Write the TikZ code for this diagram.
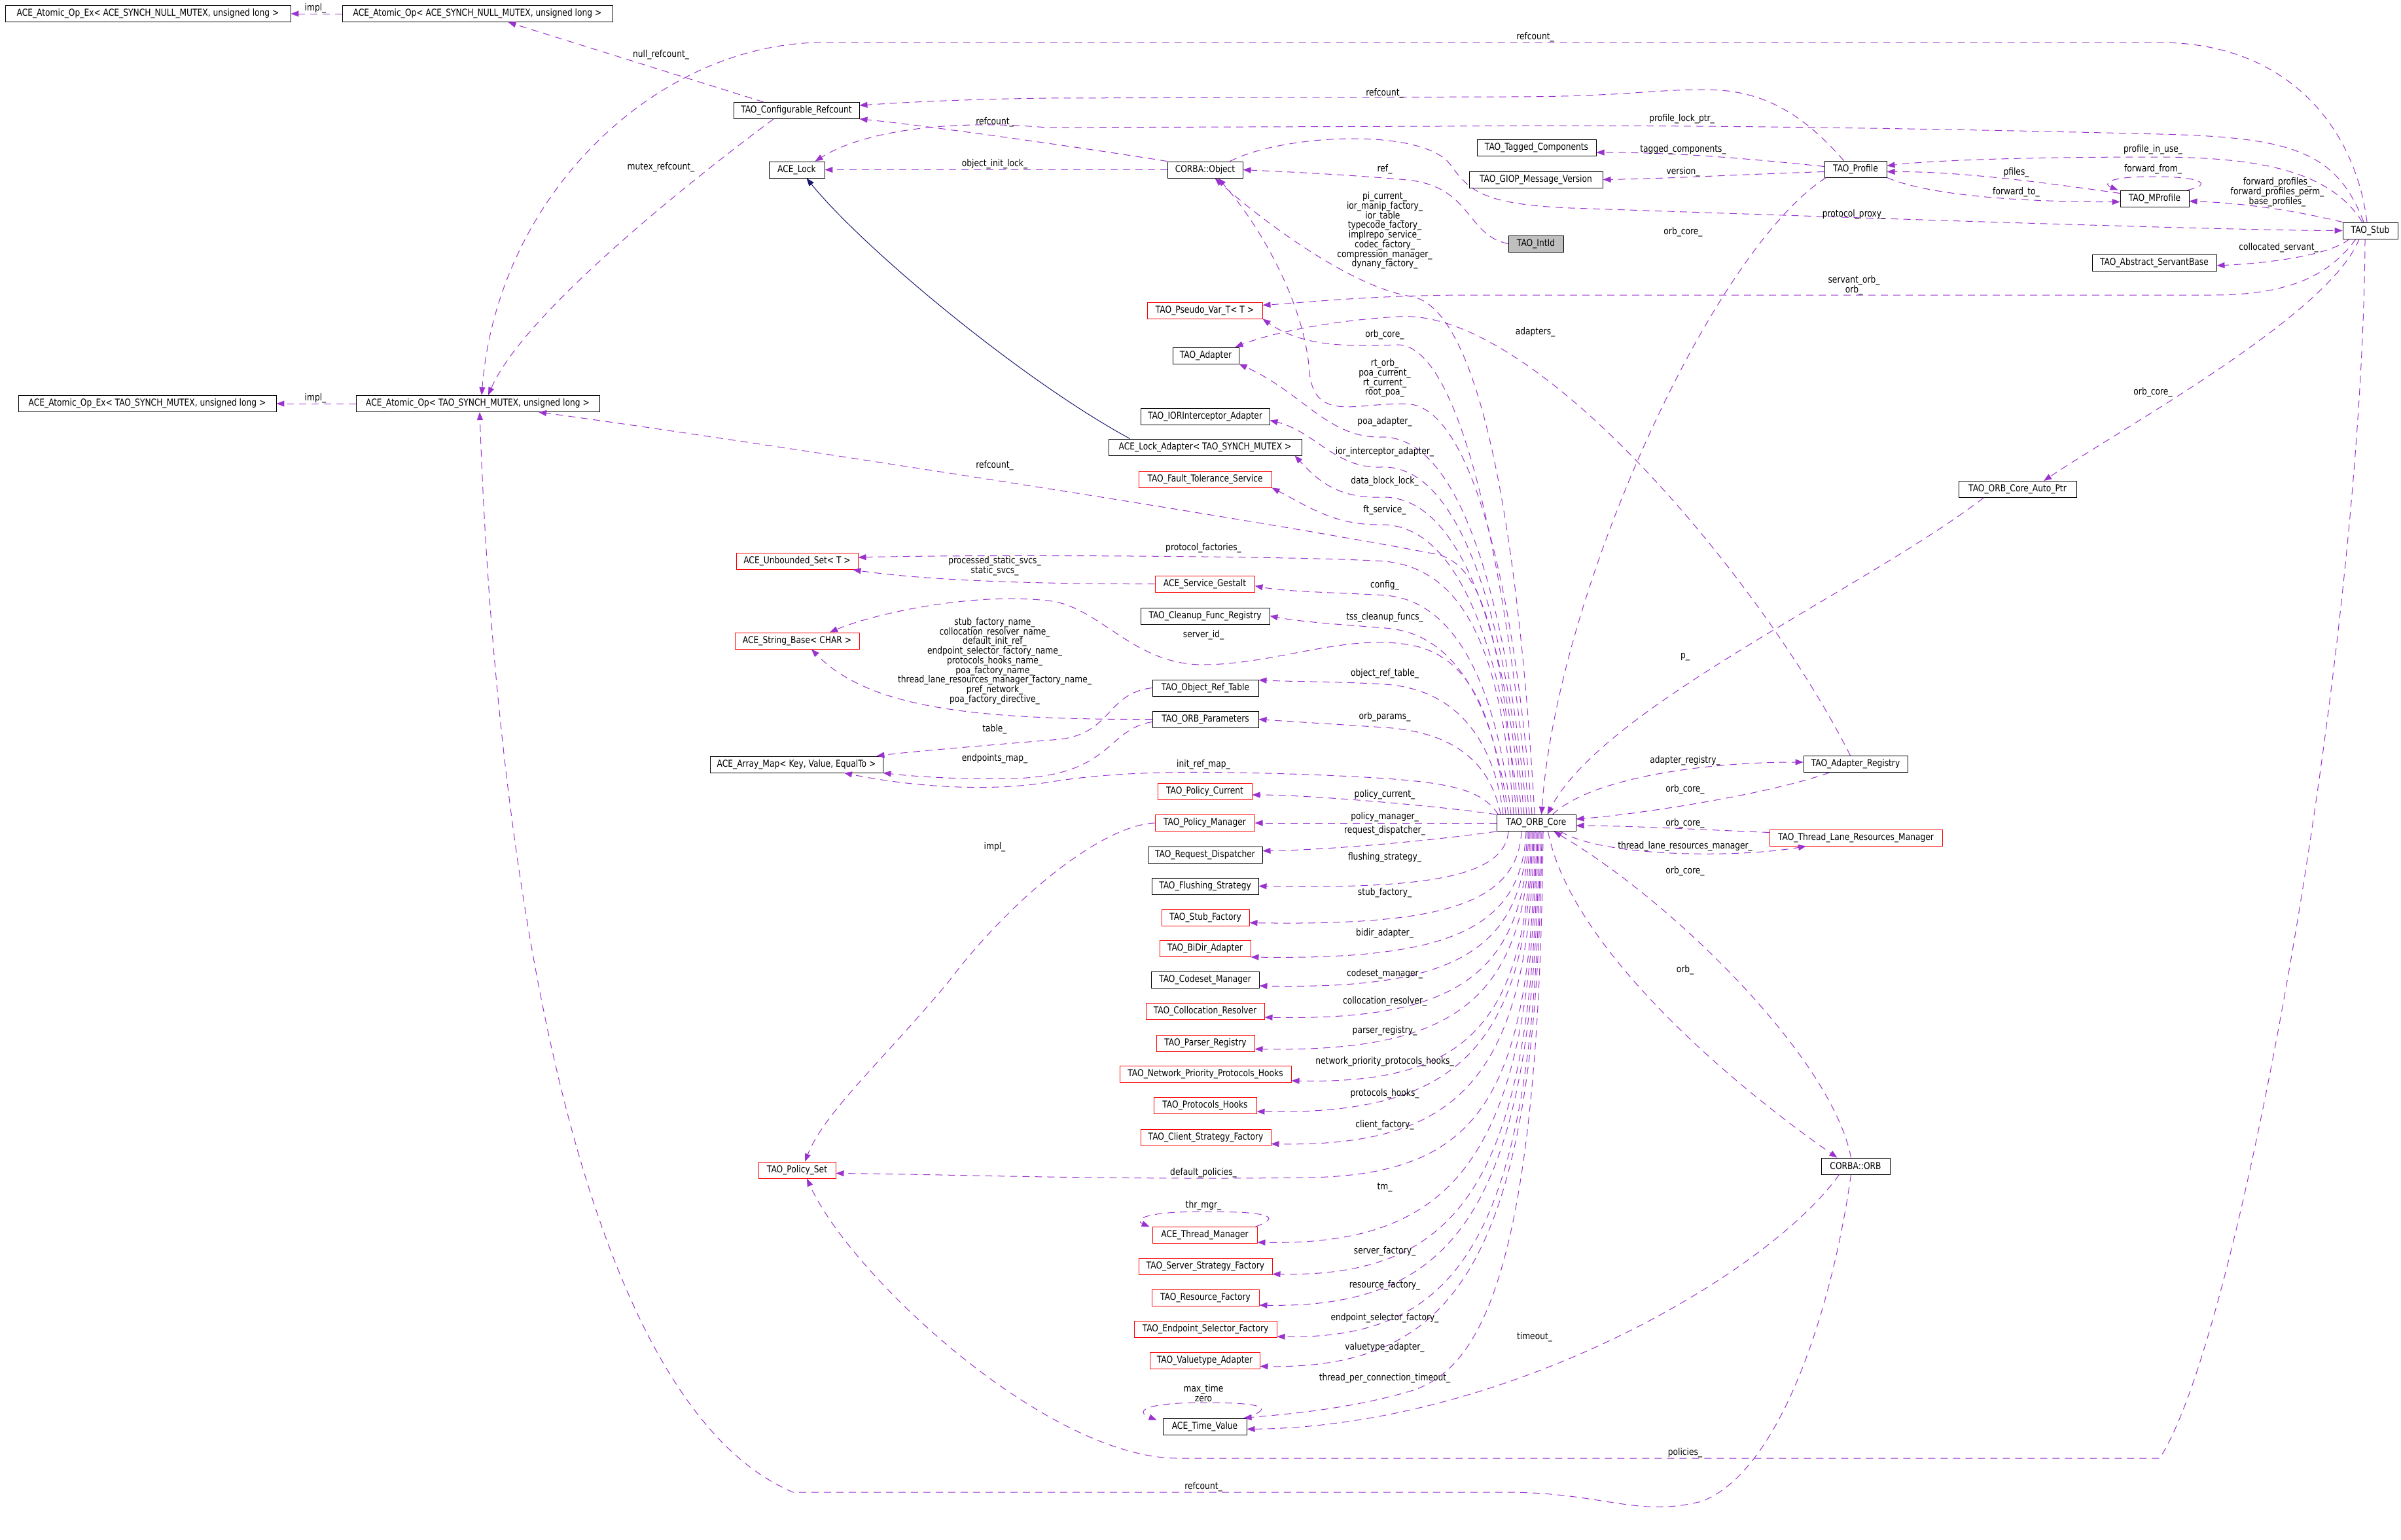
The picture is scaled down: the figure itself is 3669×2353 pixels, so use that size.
\documentclass[tikz,border=0pt]{standalone}
\usepackage{fontspec}
\setmainfont{DejaVu Sans}[FakeStretch=0.84]
\usetikzlibrary{arrows.meta}
\definecolor{edgec}{HTML}{9A32CD}
\definecolor{inhc}{HTML}{191970}
\definecolor{boxred}{HTML}{FF0000}
\definecolor{grayfill}{HTML}{BFBFBF}
\newcommand\dgfont{\fontsize{14.6}{14.7}\selectfont}
\tikzset{
  box/.style={draw=black, line width=0.95pt, minimum height=25pt, inner sep=0pt, font=\dgfont, text=black},
  rbox/.style={box, draw=boxred},
  gbox/.style={box, fill=grayfill},
  lbl/.style={font=\dgfont, inner sep=0pt, text=black, align=center},
  e/.style={draw=edgec, line width=1.0pt, dash pattern=on 11pt off 8pt, -{Triangle[length=12pt,width=9pt]}},
  inh/.style={draw=inhc, line width=1.0pt, -{Triangle[length=12pt,width=9pt]}}
}
\begin{document}
\begin{tikzpicture}[x=1pt,y=-1pt]
\fill[white] (0,0) rectangle (3669,2353);
\useasboundingbox (0,0) rectangle (3669,2353);
% ---------- nodes ----------
\node[box, minimum width=436pt] (n1) at (226,21) {ACE\_Atomic\_Op\_Ex< ACE\_SYNCH\_NULL\_MUTEX, unsigned long >};
\node[box, minimum width=413pt] (n2) at (729.5,21) {ACE\_Atomic\_Op< ACE\_SYNCH\_NULL\_MUTEX, unsigned long >};
\node[box, minimum width=394pt] (n3) at (225,617) {ACE\_Atomic\_Op\_Ex< TAO\_SYNCH\_MUTEX, unsigned long >};
\node[box, minimum width=372pt] (n4) at (730,617) {ACE\_Atomic\_Op< TAO\_SYNCH\_MUTEX, unsigned long >};
\node[box, minimum width=192pt] (cfg) at (1217,169) {TAO\_Configurable\_Refcount};
\node[box, minimum width=85pt] (lock) at (1217.5,259.5) {ACE\_Lock};
\node[box, minimum width=115pt] (obj) at (1841.5,259.5) {CORBA::Object};
\node[gbox, minimum width=84pt] (intid) at (2347,372.5) {TAO\_IntId};
\node[box, minimum width=182pt] (tagged) at (2348,226) {TAO\_Tagged\_Components};
\node[box, minimum width=204pt] (giop) at (2347,274.5) {TAO\_GIOP\_Message\_Version};
\node[rbox, minimum width=176pt] (pseudo) at (1841,474.5) {TAO\_Pseudo\_Var\_T< T >};
\node[box, minimum width=101pt] (adapter) at (1842.5,543.5) {TAO\_Adapter};
\node[box, minimum width=197pt] (iorint) at (1841.5,636.5) {TAO\_IORInterceptor\_Adapter};
\node[box, minimum width=295pt] (lockad) at (1841.5,683.5) {ACE\_Lock\_Adapter< TAO\_SYNCH\_MUTEX >};
\node[rbox, minimum width=203pt] (ft) at (1841.5,732.5) {TAO\_Fault\_Tolerance\_Service};
\node[rbox, minimum width=186pt] (uset) at (1218,858) {ACE\_Unbounded\_Set< T >};
\node[rbox, minimum width=152pt] (gestalt) at (1841,892.5) {ACE\_Service\_Gestalt};
\node[box, minimum width=197pt] (cleanup) at (1841.5,941.5) {TAO\_Cleanup\_Func\_Registry};
\node[rbox, minimum width=190pt] (strb) at (1218,979.5) {ACE\_String\_Base< CHAR >};
\node[box, minimum width=162pt] (ort) at (1842,1051.5) {TAO\_Object\_Ref\_Table};
\node[box, minimum width=162pt] (params) at (1842,1099.5) {TAO\_ORB\_Parameters};
\node[box, minimum width=264pt] (amap) at (1217,1168.5) {ACE\_Array\_Map< Key, Value, EqualTo >};
\node[rbox, minimum width=144pt] (pcur) at (1841,1210) {TAO\_Policy\_Current};
\node[rbox, minimum width=152pt] (pman) at (1841,1258) {TAO\_Policy\_Manager};
\node[box, minimum width=175pt] (rdisp) at (1841.5,1306.5) {TAO\_Request\_Dispatcher};
\node[box, minimum width=163pt] (flush) at (1841.5,1354.5) {TAO\_Flushing\_Strategy};
\node[rbox, minimum width=134pt] (stubf) at (1842,1402.5) {TAO\_Stub\_Factory};
\node[rbox, minimum width=139pt] (bidir) at (1841.5,1450) {TAO\_BiDir\_Adapter};
\node[box, minimum width=165pt] (codeset) at (1841.5,1498) {TAO\_Codeset\_Manager};
\node[rbox, minimum width=181pt] (colres) at (1841.5,1546) {TAO\_Collocation\_Resolver};
\node[rbox, minimum width=150pt] (parser) at (1842,1594.5) {TAO\_Parser\_Registry};
\node[rbox, minimum width=262pt] (npph) at (1842,1642) {TAO\_Network\_Priority\_Protocols\_Hooks};
\node[rbox, minimum width=157pt] (phooks) at (1841.5,1690) {TAO\_Protocols\_Hooks};
\node[rbox, minimum width=199pt] (csf) at (1842.5,1738.5) {TAO\_Client\_Strategy\_Factory};
\node[rbox, minimum width=118pt] (pset) at (1218,1788.5) {TAO\_Policy\_Set};
\node[rbox, minimum width=160pt] (thrm) at (1841,1888) {ACE\_Thread\_Manager};
\node[rbox, minimum width=204pt] (ssf) at (1842,1935.5) {TAO\_Server\_Strategy\_Factory};
\node[rbox, minimum width=164pt] (resf) at (1842,1984) {TAO\_Resource\_Factory};
\node[rbox, minimum width=218pt] (esf) at (1842,2032) {TAO\_Endpoint\_Selector\_Factory};
\node[rbox, minimum width=168pt] (vta) at (1841,2079.5) {TAO\_Valuetype\_Adapter};
\node[box, minimum width=128pt] (tv) at (1841,2180.5) {ACE\_Time\_Value};
\node[box, minimum width=121pt] (core) at (2347.5,1258) {TAO\_ORB\_Core};
\node[box, minimum width=95pt] (profile) at (2835.5,258.5) {TAO\_Profile};
\node[box, minimum width=105pt] (mprof) at (3292.5,303.5) {TAO\_MProfile};
\node[box, minimum width=84pt] (stub) at (3622,352.5) {TAO\_Stub};
\node[box, minimum width=190pt] (asb) at (3292,402) {TAO\_Abstract\_ServantBase};
\node[box, minimum width=180pt] (autoptr) at (3083,748) {TAO\_ORB\_Core\_Auto\_Ptr};
\node[box, minimum width=159pt] (areg) at (2835.5,1168) {TAO\_Adapter\_Registry};
\node[rbox, minimum width=264pt] (tlrm) at (2836,1280.5) {TAO\_Thread\_Lane\_Resources\_Manager};
\node[box, minimum width=105pt] (orb) at (2835.5,1782.5) {CORBA::ORB};

% ---------- edges: left / top ----------
\draw[e] (n2.west) -- (n1.east);
\draw[e] (n4.west) -- (n3.east);
\draw[e] ([xshift=-50pt]cfg.north) -- ([xshift=47pt]n2.south);
\draw[e] ([xshift=-35pt]cfg.south) .. controls (1050,280) and (800,480) .. ([xshift=16pt]n4.north);
\draw[e] ([xshift=-5pt]stub.north) .. controls (3600,200) and (3500,65) .. (3300,65) -- (1250,65) .. controls (1000,70) and (760,300) .. ([xshift=6pt]n4.north);
\draw[e] (obj.north west) .. controls (1650,225) and (1400,190) .. (cfg.south east);
\draw[e] ([xshift=-18pt]profile.north) .. controls (2760,180) and (2700,137) .. (2606,137) .. controls (2520,137) and (2480,148) .. (2300,148) -- (1600,150) .. controls (1450,152) and (1360,158) .. ([yshift=8pt]cfg.east);
\draw[e] ([xshift=-10pt]stub.north) .. controls (3570,230) and (3500,210) .. (3300,205) .. controls (2900,195) and (2500,190) .. (2200,193) -- (1600,195) .. controls (1450,182) and (1320,200) .. ([xshift=28pt]lock.north);
\draw[e] (obj.west) -- (lock.east);
\draw[inh] ([xshift=-115pt]lockad.north) .. controls (1560,580) and (1320,380) .. ([xshift=15pt]lock.south);
\draw[e] (intid.west) .. controls (2240,360) and (2250,285) .. (2150,275) .. controls (2050,266) and (1950,262) .. (obj.east);
\draw[e] ([xshift=38pt]obj.north) .. controls (1960,205) and (2170,195) .. (2215,250) .. controls (2245,290) and (2260,312) .. (2400,318) .. controls (2900,335) and (3400,352) .. (stub.west);

% ---------- profile / stub ----------
\draw[e] ([yshift=4pt]profile.west) .. controls (2650,240) and (2550,233) .. ([yshift=-7pt]tagged.east);
\draw[e] ([yshift=-4pt]profile.west) .. controls (2650,267) and (2550,273) .. (giop.east);
\draw[e] ([xshift=-45pt]profile.south) .. controls (2620,380) and (2380,900) .. ([xshift=8pt]core.north);
\draw[e] ([xshift=-12pt]stub.north) .. controls (3560,260) and (3450,240) .. (3290,240) .. controls (3100,240) and (2950,245) .. ([yshift=5pt]profile.east);
\draw[e] ([yshift=8pt]mprof.west) .. controls (3130,280) and (3000,262) .. ([yshift=-4pt]profile.east);
\draw[e] (profile.south east) .. controls (2950,300) and (3100,309) .. ([yshift=-5pt]mprof.west);
\draw[e] ([xshift=-3pt]mprof.north east) .. controls (3380,283) and (3370,270) .. (3290,270) .. controls (3215,270) and (3215,282) .. ([xshift=-3pt]mprof.north west);
\draw[e] (stub.north west) .. controls (3500,320) and (3420,310) .. ([yshift=-4pt]mprof.east);
\draw[e] ([xshift=-32pt]stub.south) .. controls (3560,390) and (3470,402) .. ([yshift=-4pt]asb.east);
\draw[e] ([xshift=-22pt]stub.south) .. controls (3560,420) and (3500,451) .. (3380,451) -- (2250,451) .. controls (2100,451) and (2000,462) .. ([yshift=8pt]pseudo.east);
\draw[e] ([xshift=-17pt]stub.south) .. controls (3560,480) and (3250,650) .. ([xshift=40pt]autoptr.north);
\draw[e] ([xshift=-8pt]stub.south) .. controls (3610,1000) and (3420,2050) .. (3300,2229) -- (1800,2229) .. controls (1600,2229) and (1300,1950) .. ([xshift=15pt]pset.south);
\draw[e] ([xshift=-52pt]autoptr.south) .. controls (2850,900) and (2450,1080) .. ([xshift=17pt]core.north);
\draw[e] ([xshift=-8pt]areg.north) .. controls (2700,900) and (2350,470) .. (2137,484) .. controls (2030,490) and (1940,510) .. ([xshift=45pt]adapter.north);
\draw[e] ([xshift=25pt]core.north) .. controls (2430,1190) and (2600,1165) .. ([yshift=3pt]areg.west);
\draw[e] ([xshift=-40pt]areg.south) .. controls (2700,1215) and (2500,1245) .. ([yshift=6pt]core.east);
\draw[e] ([yshift=8pt]tlrm.west) .. controls (2600,1268) and (2480,1262) .. ([yshift=-4pt]core.east);
\draw[e] ([xshift=37pt]core.south) .. controls (2450,1310) and (2650,1312) .. ([xshift=-76pt]tlrm.south);
\draw[e] ([xshift=-7pt]orb.north) .. controls (2800,1620) and (2560,1380) .. ([xshift=27pt]core.south);
\draw[e] ([xshift=18pt]core.south) .. controls (2400,1450) and (2650,1660) .. ([xshift=-28pt]orb.north);
\draw[e] ([xshift=-7pt]orb.south) .. controls (2800,2000) and (2720,2250) .. (2600,2295) .. controls (2500,2320) and (2450,2281) .. (2300,2281) -- (1212,2281) .. controls (900,2150) and (760,1400) .. ([xshift=3pt]n4.south);
\draw[e] ([xshift=-25pt]orb.south) .. controls (2700,1950) and (2300,2180) .. ([yshift=-4pt]tv.east);

% ---------- ORB_Core top fan ----------
\draw[e] ([xshift=-2.5pt]core.north) .. controls (2320,800) and (2260,470) .. (2156,453) .. controls (2060,438) and (1920,330) .. ([xshift=15pt]obj.south);
\draw[e] ([xshift=-6.5pt]core.north) .. controls (2310,850) and (2240,630) .. (2156,618) .. controls (2080,612) and (2010,650) .. (2001,570) .. controls (1995,470) and (1930,350) .. ([xshift=20pt]obj.south);
\draw[e] ([xshift=-10.5pt]core.north) .. controls (2300,850) and (2230,530) .. (2137,527) .. controls (2060,530) and (1990,530) .. (pseudo.south east);
\draw[e] ([xshift=-14.5pt]core.north) .. controls (2305,950) and (2240,665) .. (2110,668) .. controls (2030,670) and (1990,600) .. (adapter.south east);
\draw[e] ([xshift=-18.5pt]core.north) .. controls (2305,980) and (2240,708) .. (2110,714) .. controls (2040,716) and (2010,660) .. ([yshift=-6pt]iorint.east);
\draw[e] ([xshift=-22.5pt]core.north) .. controls (2305,1000) and (2240,755) .. (2110,760) .. controls (2040,762) and (2010,730) .. ([xshift=-11pt]lockad.south east);
\draw[e] ([xshift=-26.5pt]core.north) .. controls (2300,1030) and (2240,800) .. (2110,802) .. controls (2040,803) and (2000,775) .. (ft.south east);
\draw[e] ([xshift=-30.5pt]core.north) .. controls (2295,960) and (2260,860) .. (2194,847) .. controls (1900,790) and (1050,660) .. ([xshift=93pt]n4.south);
\draw[e] ([xshift=-34.5pt]core.north) .. controls (2295,1000) and (2240,870) .. (2116,858) .. controls (2000,850) and (1500,847) .. ([yshift=6pt]uset.east);
\draw[e] (gestalt.west) .. controls (1550,893) and (1400,885) .. ([xshift=-8pt]uset.south east);
\draw[e] ([xshift=-38.5pt]core.north) .. controls (2290,1077) and (2236,918) .. (2116,910) .. controls (2056,906) and (1967,905) .. ([yshift=-3pt]gestalt.east);
\draw[e] ([xshift=-42.5pt]core.north) .. controls (2285,1100) and (2236,968) .. (2116,960) .. controls (2056,955) and (1990,951) .. (cleanup.east);
\draw[e] ([xshift=-46.5pt]core.north) .. controls (2285,1100) and (2250,1000) .. (2150,985) .. controls (2050,970) and (1950,1015) .. (1840,1016) .. controls (1730,1017) and (1680,925) .. (1600,918) .. controls (1480,905) and (1330,940) .. ([xshift=50pt]strb.north);
\draw[e] ([xshift=-50.5pt]core.north) .. controls (2285,1145) and (2236,1054) .. (2116,1046) .. controls (2056,1042) and (1973,1042) .. ([yshift=12pt]ort.east);
\draw[e] ([xshift=-54.5pt]core.north) .. controls (2280,1178) and (2236,1120) .. (2116,1112) .. controls (2056,1108) and (1973,1103) .. (params.east);
\draw[e] ([xshift=3pt]core.north west) .. controls (2260,1200) and (2200,1192) .. (2000,1184) .. controls (1800,1177) and (1700,1180) .. (1600,1196) .. controls (1500,1212) and (1380,1200) .. ([xshift=73pt]amap.south);
\draw[e] (core.north west) .. controls (2200,1232) and (2000,1215) .. ([yshift=-5pt]pcur.east);
\draw[e] (core.west) -- (pman.east);
\draw[e] (core.south west) .. controls (2150,1290) and (2000,1300) .. ([yshift=6pt]rdisp.east);

% ---------- left middle ----------
\draw[e] (params.west) .. controls (1500,1100) and (1330,1085) .. ([xshift=22pt]strb.south);
\draw[e] (ort.west) .. controls (1690,1060) and (1700,1120) .. (1620,1130) .. controls (1500,1140) and (1400,1148) .. ([xshift=-10pt]amap.north east);
\draw[e] ([yshift=-4pt]params.west) .. controls (1690,1115) and (1700,1185) .. (1550,1190) .. controls (1450,1192) and (1380,1185) .. (amap.south east);
\draw[e] (pman.west) .. controls (1680,1262) and (1540,1380) .. (1450,1500) .. controls (1350,1620) and (1260,1700) .. ([xshift=12pt]pset.north);

% ---------- ORB_Core bottom fan ----------
\draw[e] ([xshift=-42.5pt]core.south) .. controls (2299,1338) and (2190,1359) .. (flush.east);
\draw[e] ([xshift=-22.5pt]core.south) .. controls (2319,1383) and (2200,1415) .. ([yshift=-8pt]stubf.east);
\draw[e] ([xshift=-15.5pt]core.south) .. controls (2326,1424) and (2206,1467) .. (bidir.south east);
\draw[e] ([xshift=-13.5pt]core.south) .. controls (2328,1460) and (2211,1512) .. ([yshift=-9pt]codeset.east);
\draw[e] ([xshift=-11.5pt]core.south) .. controls (2330,1498) and (2215,1560) .. ([yshift=-9pt]colres.east);
\draw[e] ([xshift=-9.5pt]core.south) .. controls (2332,1537) and (2212,1608) .. ([yshift=-9pt]parser.east);
\draw[e] ([xshift=-7.5pt]core.south) .. controls (2334,1576) and (2230,1657) .. ([yshift=-10pt]npph.east);
\draw[e] ([xshift=-5.5pt]core.south) .. controls (2336,1613) and (2215,1704) .. ([yshift=-9pt]phooks.east);
\draw[e] ([xshift=-3.5pt]core.south) .. controls (2338,1653) and (2224,1753) .. ([yshift=-10pt]csf.east);
\draw[e] ([xshift=-1.5pt]core.south) .. controls (2340,1680) and (2260,1795) .. (2000,1800) .. controls (1700,1804) and (1450,1795) .. ([yshift=-5pt]pset.east);
\draw[e] ([xshift=0.5pt]core.south) .. controls (2342,1773) and (2220,1904) .. ([yshift=-11pt]thrm.east);
\draw[e] ([xshift=-3pt]thrm.north east) .. controls (1960,1860) and (1940,1852) .. (1841,1852) .. controls (1740,1852) and (1735,1866) .. ([xshift=-4pt]thrm.north west);
\draw[e] ([xshift=2.5pt]core.south) .. controls (2344,1812) and (2228,1952) .. ([yshift=-12pt]ssf.east);
\draw[e] ([xshift=4.5pt]core.south) .. controls (2346,1850) and (2224,2000) .. ([yshift=-11pt]resf.east);
\draw[e] ([xshift=6.5pt]core.south) .. controls (2348,1889) and (2233,2048) .. ([yshift=-11pt]esf.east);
\draw[e] ([xshift=8.5pt]core.south) .. controls (2350,1925) and (2227,2093) .. ([yshift=-9pt]vta.east);
\draw[e] ([xshift=10.5pt]core.south) .. controls (2352,1950) and (2260,2090) .. (2160,2125) .. controls (2060,2155) and (1960,2162) .. ([xshift=-5pt]tv.north east);
\draw[e] ([xshift=-3pt]tv.north east) .. controls (1950,2152) and (1930,2144) .. (1841,2144) .. controls (1745,2144) and (1735,2158) .. ([xshift=-9pt,yshift=-3pt]tv.north west);

% ---------- labels ----------
\node[lbl] (l01) at (482,13) {impl\_};
\node[lbl] (l02) at (482,609) {impl\_};
\node[lbl] (l03) at (1010,84) {null\_refcount\_};
\node[lbl] (l04) at (1010,256) {mutex\_refcount\_};
\node[lbl] (l05) at (2346,57) {refcount\_};
\node[lbl] (l06) at (2116,143) {refcount\_};
\node[lbl] (l07) at (1520,187) {refcount\_};
\node[lbl] (l08) at (2570,182) {profile\_lock\_ptr\_};
\node[lbl] (l09) at (1520,251) {object\_init\_lock\_};
\node[lbl] (l10) at (2116,259) {ref\_};
\node[lbl] (l11) at (2116,352.5) {pi\_current\_\\ior\_manip\_factory\_\\ior\_table\_\\typecode\_factory\_\\implrepo\_service\_\\codec\_factory\_\\compression\_manager\_\\dynany\_factory\_};
\node[lbl] (l12) at (2572,229) {tagged\_components\_};
\node[lbl] (l13) at (2572,263) {version\_};
\node[lbl] (l14) at (2572,355) {orb\_core\_};
\node[lbl] (l15) at (3290,229) {profile\_in\_use\_};
\node[lbl] (l16) at (3081,264) {pfiles\_};
\node[lbl] (l17) at (3290,259) {forward\_from\_};
\node[lbl] (l18) at (3081,294) {forward\_to\_};
\node[lbl] (l19) at (3480,293.5) {forward\_profiles\_\\forward\_profiles\_perm\_\\base\_profiles\_};
\node[lbl] (l20) at (2833,328) {protocol\_proxy\_};
\node[lbl] (l21) at (3482,379) {collocated\_servant\_};
\node[lbl] (l22) at (2833,436) {servant\_orb\_\\orb\_};
\node[lbl] (l23) at (3290,600) {orb\_core\_};
\node[lbl] (l24) at (2116,512) {orb\_core\_};
\node[lbl] (l25) at (2346,508) {adapters\_};
\node[lbl] (l26) at (2116,578) {rt\_orb\_\\poa\_current\_\\rt\_current\_\\root\_poa\_};
\node[lbl] (l27) at (2116,645) {poa\_adapter\_};
\node[lbl] (l28) at (2116,691) {ior\_interceptor\_adapter\_};
\node[lbl] (l29) at (1520,712) {refcount\_};
\node[lbl] (l30) at (2116,736) {data\_block\_lock\_};
\node[lbl] (l31) at (2116,780) {ft\_service\_};
\node[lbl] (l32) at (1839,838) {protocol\_factories\_};
\node[lbl] (l33) at (1520,865.5) {processed\_static\_svcs\_\\static\_svcs\_};
\node[lbl] (l34) at (2116,895) {config\_};
\node[lbl] (l35) at (2116,944) {tss\_cleanup\_funcs\_};
\node[lbl] (l36) at (1839,971) {server\_id\_};
\node[lbl] (l37) at (1520,1010.5) {stub\_factory\_name\_\\collocation\_resolver\_name\_\\default\_init\_ref\_\\endpoint\_selector\_factory\_name\_\\protocols\_hooks\_name\_\\poa\_factory\_name\_\\thread\_lane\_resources\_manager\_factory\_name\_\\pref\_network\_\\poa\_factory\_directive\_};
\node[lbl] (l38) at (2116,1030) {object\_ref\_table\_};
\node[lbl] (l39) at (2116,1096) {orb\_params\_};
\node[lbl] (l40) at (1520,1115) {table\_};
\node[lbl] (l41) at (1520,1160) {endpoints\_map\_};
\node[lbl] (l42) at (1839,1169) {init\_ref\_map\_};
\node[lbl] (l43) at (2116,1215) {policy\_current\_};
\node[lbl] (l44) at (2116,1249) {policy\_manager\_};
\node[lbl] (l45) at (2116,1270) {request\_dispatcher\_};
\node[lbl] (l46) at (1520,1295) {impl\_};
\node[lbl] (l47) at (2116,1311) {flushing\_strategy\_};
\node[lbl] (l48) at (2116,1365) {stub\_factory\_};
\node[lbl] (l49) at (2116,1427) {bidir\_adapter\_};
\node[lbl] (l50) at (2116,1489) {codeset\_manager\_};
\node[lbl] (l51) at (2116,1531) {collocation\_resolver\_};
\node[lbl] (l52) at (2116,1576) {parser\_registry\_};
\node[lbl] (l53) at (2116,1623) {network\_priority\_protocols\_hooks\_};
\node[lbl] (l54) at (2116,1672) {protocols\_hooks\_};
\node[lbl] (l55) at (2116,1720) {client\_factory\_};
\node[lbl] (l56) at (1839,1793) {default\_policies\_};
\node[lbl] (l57) at (2116,1815) {tm\_};
\node[lbl] (l58) at (1839,1843) {thr\_mgr\_};
\node[lbl] (l59) at (2116,1913) {server\_factory\_};
\node[lbl] (l60) at (2116,1965) {resource\_factory\_};
\node[lbl] (l61) at (2116,2015) {endpoint\_selector\_factory\_};
\node[lbl] (l62) at (2116,2060) {valuetype\_adapter\_};
\node[lbl] (l63) at (2116,2107) {thread\_per\_connection\_timeout\_};
\node[lbl] (l64) at (1839,2129.5) {max\_time\\zero};
\node[lbl] (l65) at (2345,2044) {timeout\_};
\node[lbl] (l66) at (2575,2221) {policies\_};
\node[lbl] (l67) at (1839,2273) {refcount\_};
\node[lbl] (l68) at (2575,1004) {p\_};
\node[lbl] (l69) at (2575,1163) {adapter\_registry\_};
\node[lbl] (l70) at (2575,1207) {orb\_core\_};
\node[lbl] (l71) at (2575,1259) {orb\_core\_};
\node[lbl] (l72) at (2575,1294) {thread\_lane\_resources\_manager\_};
\node[lbl] (l73) at (2575,1332) {orb\_core\_};
\node[lbl] (l74) at (2575,1483) {orb\_};
\end{tikzpicture}
\end{document}
